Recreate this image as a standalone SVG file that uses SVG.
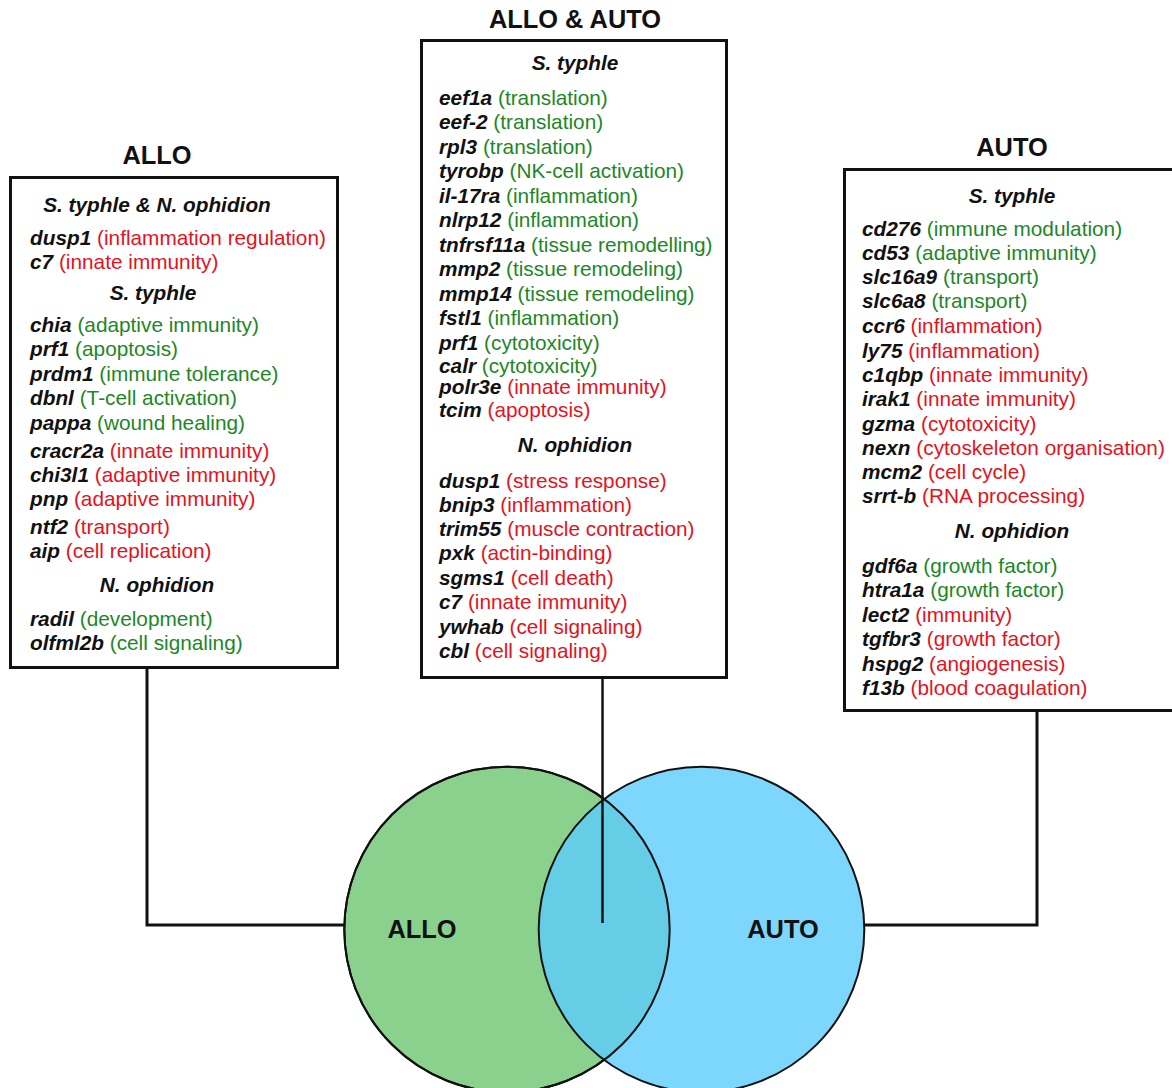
<svg xmlns="http://www.w3.org/2000/svg" width="1172" height="1088" viewBox="0 0 1172 1088">
<style>
text{font-family:"Liberation Sans",Arial,sans-serif;font-size:20.8px;fill:#111}
.g{font-weight:bold;font-style:italic;fill:#111}
.gr{fill:#1c8726}
.rd{fill:#e5121d}
.hd{font-weight:bold;font-style:italic;text-anchor:middle}
.ti{font-weight:bold;font-size:25.4px;text-anchor:middle}
.box{fill:#fff;stroke:#111;stroke-width:3}
.con{fill:none;stroke:#111;stroke-width:3}
.circ{stroke:#111;stroke-width:2}
</style>
<defs>
<clipPath id="clipGreen"><circle cx="507" cy="929.5" r="162.7"/></clipPath>
</defs>
<rect width="1172" height="1088" fill="#fff"/>

<g id="venn">
<circle class="circ" cx="507" cy="929.5" r="162.7" fill="#8bd18e"/>
<circle cx="701.5" cy="929.5" r="162.8" fill="#7dd6fb"/>
<circle cx="701.5" cy="929.5" r="162.8" fill="#66cde6" clip-path="url(#clipGreen)"/>
<circle cx="507" cy="929.5" r="162.7" fill="none" class="circ"/>
<circle cx="701.5" cy="929.5" r="162.8" fill="none" class="circ"/>
<text class="ti" x="422" y="938">ALLO</text>
<text class="ti" x="783" y="938">AUTO</text>
</g>

<g id="connectors">
<polyline class="con" points="147,668 147,925 344,925"/>
<polyline class="con" points="1037,711 1037,925 864,925"/>
<line class="con" x1="602.5" y1="677" x2="602.5" y2="923" style="stroke-width:2.5"/>
</g>

<g id="allo">
<text class="ti" x="157" y="164">ALLO</text>
<rect class="box" x="10.5" y="177.5" width="327" height="490"/>
<text class="hd" x="157" y="212">S. typhle &amp; N. ophidion</text>
<text x="30" y="245"><tspan class="g">dusp1</tspan> <tspan class="rd">(inflammation regulation)</tspan></text>
<text x="30" y="269"><tspan class="g">c7</tspan> <tspan class="rd">(innate immunity)</tspan></text>
<text class="hd" x="153" y="300">S. typhle</text>
<text x="30" y="332"><tspan class="g">chia</tspan> <tspan class="gr">(adaptive immunity)</tspan></text>
<text x="30" y="356"><tspan class="g">prf1</tspan> <tspan class="gr">(apoptosis)</tspan></text>
<text x="30" y="381"><tspan class="g">prdm1</tspan> <tspan class="gr">(immune tolerance)</tspan></text>
<text x="30" y="405"><tspan class="g">dbnl</tspan> <tspan class="gr">(T-cell activation)</tspan></text>
<text x="30" y="430"><tspan class="g">pappa</tspan> <tspan class="gr">(wound healing)</tspan></text>
<text x="30" y="458"><tspan class="g">cracr2a</tspan> <tspan class="rd">(innate immunity)</tspan></text>
<text x="30" y="482"><tspan class="g">chi3l1</tspan> <tspan class="rd">(adaptive immunity)</tspan></text>
<text x="30" y="506"><tspan class="g">pnp</tspan> <tspan class="rd">(adaptive immunity)</tspan></text>
<text x="30" y="534"><tspan class="g">ntf2</tspan> <tspan class="rd">(transport)</tspan></text>
<text x="30" y="558"><tspan class="g">aip</tspan> <tspan class="rd">(cell replication)</tspan></text>
<text class="hd" x="157" y="592">N. ophidion</text>
<text x="30" y="626"><tspan class="g">radil</tspan> <tspan class="gr">(development)</tspan></text>
<text x="30" y="650"><tspan class="g">olfml2b</tspan> <tspan class="gr">(cell signaling)</tspan></text>
</g>

<g id="allo-auto">
<text class="ti" x="575" y="28">ALLO &amp; AUTO</text>
<rect class="box" x="421.5" y="40.5" width="305" height="637"/>
<text class="hd" x="575" y="70">S. typhle</text>
<text x="439" y="105"><tspan class="g">eef1a</tspan> <tspan class="gr">(translation)</tspan></text>
<text x="439" y="129"><tspan class="g">eef-2</tspan> <tspan class="gr">(translation)</tspan></text>
<text x="439" y="154"><tspan class="g">rpl3</tspan> <tspan class="gr">(translation)</tspan></text>
<text x="439" y="178"><tspan class="g">tyrobp</tspan> <tspan class="gr">(NK-cell activation)</tspan></text>
<text x="439" y="203"><tspan class="g">il-17ra</tspan> <tspan class="gr">(inflammation)</tspan></text>
<text x="439" y="227"><tspan class="g">nlrp12</tspan> <tspan class="gr">(inflammation)</tspan></text>
<text x="439" y="252"><tspan class="g">tnfrsf11a</tspan> <tspan class="gr">(tissue remodelling)</tspan></text>
<text x="439" y="276"><tspan class="g">mmp2</tspan> <tspan class="gr">(tissue remodeling)</tspan></text>
<text x="439" y="301"><tspan class="g">mmp14</tspan> <tspan class="gr">(tissue remodeling)</tspan></text>
<text x="439" y="325"><tspan class="g">fstl1</tspan> <tspan class="gr">(inflammation)</tspan></text>
<text x="439" y="350"><tspan class="g">prf1</tspan> <tspan class="gr">(cytotoxicity)</tspan></text>
<text x="439" y="373"><tspan class="g">calr</tspan> <tspan class="gr">(cytotoxicity)</tspan></text>
<text x="439" y="394"><tspan class="g">polr3e</tspan> <tspan class="rd">(innate immunity)</tspan></text>
<text x="439" y="417"><tspan class="g">tcim</tspan> <tspan class="rd">(apoptosis)</tspan></text>
<text class="hd" x="575" y="452">N. ophidion</text>
<text x="439" y="488"><tspan class="g">dusp1</tspan> <tspan class="rd">(stress response)</tspan></text>
<text x="439" y="512"><tspan class="g">bnip3</tspan> <tspan class="rd">(inflammation)</tspan></text>
<text x="439" y="536"><tspan class="g">trim55</tspan> <tspan class="rd">(muscle contraction)</tspan></text>
<text x="439" y="560"><tspan class="g">pxk</tspan> <tspan class="rd">(actin-binding)</tspan></text>
<text x="439" y="585"><tspan class="g">sgms1</tspan> <tspan class="rd">(cell death)</tspan></text>
<text x="439" y="609"><tspan class="g">c7</tspan> <tspan class="rd">(innate immunity)</tspan></text>
<text x="439" y="634"><tspan class="g">ywhab</tspan> <tspan class="rd">(cell signaling)</tspan></text>
<text x="439" y="658"><tspan class="g">cbl</tspan> <tspan class="rd">(cell signaling)</tspan></text>
</g>

<g id="auto">
<text class="ti" x="1012" y="156">AUTO</text>
<rect class="box" x="844.5" y="169.5" width="340" height="541"/>
<text class="hd" x="1012" y="203">S. typhle</text>
<text x="862" y="236"><tspan class="g">cd276</tspan> <tspan class="gr">(immune modulation)</tspan></text>
<text x="862" y="260"><tspan class="g">cd53</tspan> <tspan class="gr">(adaptive immunity)</tspan></text>
<text x="862" y="284"><tspan class="g">slc16a9</tspan> <tspan class="gr">(transport)</tspan></text>
<text x="862" y="308"><tspan class="g">slc6a8</tspan> <tspan class="gr">(transport)</tspan></text>
<text x="862" y="333"><tspan class="g">ccr6</tspan> <tspan class="rd">(inflammation)</tspan></text>
<text x="862" y="358"><tspan class="g">ly75</tspan> <tspan class="rd">(inflammation)</tspan></text>
<text x="862" y="382"><tspan class="g">c1qbp</tspan> <tspan class="rd">(innate immunity)</tspan></text>
<text x="862" y="406"><tspan class="g">irak1</tspan> <tspan class="rd">(innate immunity)</tspan></text>
<text x="862" y="431"><tspan class="g">gzma</tspan> <tspan class="rd">(cytotoxicity)</tspan></text>
<text x="862" y="455"><tspan class="g">nexn</tspan> <tspan class="rd">(cytoskeleton organisation)</tspan></text>
<text x="862" y="479"><tspan class="g">mcm2</tspan> <tspan class="rd">(cell cycle)</tspan></text>
<text x="862" y="503"><tspan class="g">srrt-b</tspan> <tspan class="rd">(RNA processing)</tspan></text>
<text class="hd" x="1012" y="538">N. ophidion</text>
<text x="862" y="573"><tspan class="g">gdf6a</tspan> <tspan class="gr">(growth factor)</tspan></text>
<text x="862" y="597"><tspan class="g">htra1a</tspan> <tspan class="gr">(growth factor)</tspan></text>
<text x="862" y="622"><tspan class="g">lect2</tspan> <tspan class="rd">(immunity)</tspan></text>
<text x="862" y="646"><tspan class="g">tgfbr3</tspan> <tspan class="rd">(growth factor)</tspan></text>
<text x="862" y="671"><tspan class="g">hspg2</tspan> <tspan class="rd">(angiogenesis)</tspan></text>
<text x="862" y="695"><tspan class="g">f13b</tspan> <tspan class="rd">(blood coagulation)</tspan></text>
</g>
</svg>
